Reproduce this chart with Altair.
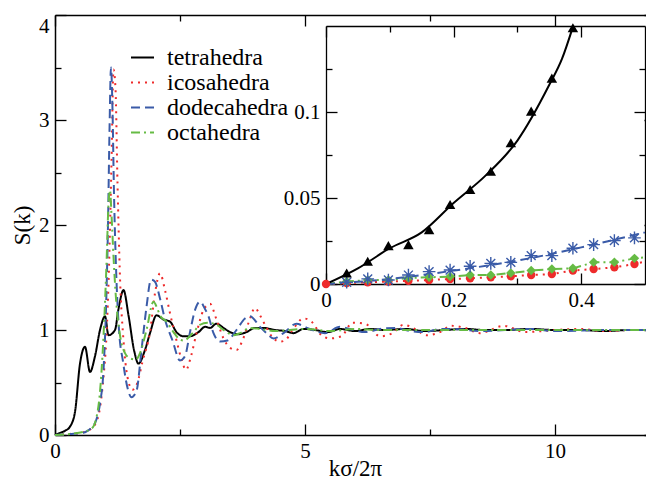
import altair as alt
import pandas as pd

# ---------------- main panel data ----------------
names = ["tetrahedra", "icosahedra", "dodecahedra", "octahedra"]
colors = ["#000000", "#ee2b2b", "#3a5ba8", "#66bb44"]
dashes = [[1, 0], [2, 5], [9, 5], [9, 4, 2, 4]]

k_tet = [0.0, 0.1, 0.2, 0.3, 0.4, 0.5, 0.6, 0.7, 0.8, 0.9, 1.0, 1.07, 1.2, 1.27, 1.37, 1.47, 1.58, 1.67, 1.8, 1.9,
         2.03, 2.17, 2.3, 2.43, 2.57, 2.7, 2.87, 3.0, 3.1, 3.23, 3.37, 3.5, 3.67, 3.83, 4.0, 4.17, 4.4, 4.6, 4.77, 4.97,
         5.2, 5.45, 5.7, 6.0, 6.3, 6.6, 7.0, 7.4, 7.8, 8.2, 8.6, 9.0, 9.5, 10.0, 10.5, 11.0, 11.5, 12.0]
s_tet = [0.0, 0.02, 0.04, 0.08, 0.22, 0.68, 0.84, 0.60, 0.75, 1.0, 1.13, 0.95, 1.0, 1.2, 1.38, 1.14, 0.81, 0.68, 0.81, 0.97,
         1.14, 1.10, 1.08, 0.98, 0.94, 0.94, 0.98, 1.03, 1.02, 1.06, 1.02, 0.98, 0.96, 0.98, 1.02, 1.02, 1.0, 0.99, 0.97, 1.01,
         1.0, 0.98, 1.01, 0.99, 1.01, 1.0, 1.01, 0.99, 1.0, 1.01, 1.0, 1.0, 1.01, 1.0, 1.0, 0.99, 1.0, 1.0]

k_ico = [0.0, 0.3, 0.5, 0.65, 0.75, 0.8, 0.9, 0.97, 1.03, 1.08, 1.13, 1.17, 1.21, 1.25, 1.3, 1.37, 1.45, 1.55, 1.65, 1.75,
         1.9, 2.0, 2.1, 2.2, 2.3, 2.43, 2.53, 2.62, 2.72, 2.83, 2.97, 3.1, 3.23, 3.37, 3.5, 3.63, 3.75, 3.88, 4.0, 4.1,
         4.2, 4.35, 4.5, 4.6, 4.75, 4.97, 5.13, 5.33, 5.5, 5.73, 5.95, 6.2, 6.5, 6.75, 6.97, 7.2, 7.43, 7.7, 7.93, 8.2,
         8.5, 8.97, 9.4, 10.0, 10.5, 11.0, 11.5, 12.0]
s_ico = [0.0, 0.01, 0.02, 0.04, 0.07, 0.1, 0.26, 0.55, 0.95, 1.6, 2.6, 3.48, 3.3, 2.4, 1.5, 0.9, 0.55, 0.43, 0.5, 0.7,
         0.98, 1.35, 1.54, 1.38, 1.16, 0.9, 0.72, 0.62, 0.75, 0.97, 1.19, 1.25, 1.1, 0.92, 0.83, 0.81, 0.9, 1.08, 1.21, 1.14,
         1.05, 0.93, 0.89, 0.9, 1.0, 1.11, 1.08, 0.95, 0.92, 0.94, 1.07, 1.06, 0.94, 0.97, 1.05, 1.01, 0.95, 0.98, 1.04, 1.02,
         0.97, 1.04, 0.98, 1.0, 1.01, 0.99, 1.0, 1.0]

k_dod = [0.0, 0.3, 0.55, 0.65, 0.73, 0.83, 0.9, 0.97, 1.02, 1.06, 1.09, 1.12, 1.15, 1.18, 1.22, 1.28, 1.36, 1.45, 1.53, 1.63,
         1.73, 1.83, 1.92, 2.0, 2.1, 2.2, 2.35, 2.5, 2.6, 2.7, 2.8, 2.9, 3.0, 3.07, 3.17, 3.3, 3.45, 3.63, 3.8, 3.9,
         4.1, 4.23, 4.37, 4.57, 4.83, 5.0, 5.2, 5.4, 5.7, 5.9, 6.2, 6.5, 6.8, 7.1, 7.4, 7.7, 8.0, 8.5, 9.0, 9.5,
         10.0, 11.0, 12.0]
s_dod = [0.0, 0.01, 0.02, 0.04, 0.07, 0.15, 0.3, 0.62, 1.2, 2.0, 2.9, 3.5, 3.1, 2.3, 1.6, 1.0, 0.7, 0.45, 0.36, 0.42,
         0.81, 1.22, 1.48, 1.46, 1.3, 1.1, 0.9, 0.71, 0.75, 0.98, 1.19, 1.27, 1.2, 1.13, 0.97, 0.89, 0.9, 1.0, 1.11, 1.13,
         1.03, 0.97, 0.92, 0.97, 1.06, 1.03, 0.99, 0.97, 1.03, 1.01, 0.98, 1.01, 1.02, 0.99, 0.98, 1.01, 1.01, 0.99, 1.0, 1.01,
         0.99, 1.0, 1.0]

k_oct = [0.0, 0.3, 0.57, 0.73, 0.83, 0.89, 0.97, 1.03, 1.07, 1.1, 1.13, 1.17, 1.22, 1.3, 1.4, 1.5, 1.62, 1.7, 1.83, 1.97,
         2.05, 2.1, 2.23, 2.37, 2.47, 2.57, 2.77, 2.9, 3.05, 3.23, 3.4, 3.57, 3.7, 3.9, 4.1, 4.4, 4.7, 5.0, 5.5, 6.0,
         6.5, 7.0, 8.0, 9.0, 10.0, 11.0, 12.0]
s_oct = [0.0, 0.01, 0.03, 0.06, 0.17, 0.36, 0.94, 1.63, 2.2, 2.33, 2.1, 1.7, 1.3, 0.95, 0.78, 0.73, 0.72, 0.78, 1.0, 1.27,
         1.2, 1.14, 1.08, 0.98, 0.92, 0.9, 0.98, 1.05, 1.07, 1.05, 0.99, 0.95, 0.97, 1.02, 1.01, 0.99, 1.0, 1.01, 0.99, 1.01,
         1.0, 1.0, 1.0, 1.0, 1.0, 1.0, 1.0]

# ---------------- inset data ----------------
k_pts = [0.0324, 0.0654, 0.0978, 0.1292, 0.1616, 0.1945, 0.2259, 0.2583, 0.2897, 0.3216, 0.354, 0.387,
         0.4195, 0.452, 0.4835]
tet_pts = [0.0064, 0.0132, 0.0223, 0.0229, 0.0316, 0.0462, 0.0549, 0.0656, 0.0821, 0.1005, 0.1197, 0.149]
dod_pts = [0.001, 0.003, 0.0023, 0.0052, 0.0072, 0.0081, 0.0103, 0.012, 0.0126, 0.0165, 0.0165, 0.0208,
           0.0229, 0.0252, 0.0268]
oct_pts = [0.0014, 0.0023, 0.0023, 0.0035, 0.0039, 0.0043, 0.0052, 0.0052, 0.0064, 0.0078, 0.0087, 0.0091,
           0.0126, 0.0126, 0.0149]
ico_k = [0.0] + k_pts
ico_pts = [0.0, 0.0005, 0.001, 0.0014, 0.0019, 0.0023, 0.0029, 0.0033, 0.0039, 0.0045, 0.0052, 0.0058,
           0.0078, 0.0087, 0.0097, 0.0116]

tet_fit_k = [0.0, 0.05, 0.1, 0.15, 0.2, 0.25, 0.3, 0.35, 0.37, 0.387]
tet_fit_s = [0.0, 0.0091, 0.0208, 0.030, 0.0471, 0.063, 0.0834, 0.1158, 0.131, 0.1495]
dod_fit_k = [0.0, 0.1, 0.2, 0.3, 0.4, 0.5]
dod_fit_s = [0.0, 0.0029, 0.0078, 0.0136, 0.0213, 0.030]
oct_line_k = [0.0] + k_pts + [0.5]
oct_line_s = [0.0] + oct_pts + [0.0155]
ico_line_k = ico_k + [0.5]
ico_line_s = ico_pts + [0.013]

# ---------------- frames ----------------
frames = []
for nm, kk, ss in [(names[0], k_tet, s_tet), (names[1], k_ico, s_ico),
                   (names[2], k_dod, s_dod), (names[3], k_oct, s_oct)]:
    frames.append(pd.DataFrame({"k": kk, "S": ss, "series": nm}))
df_main = pd.concat(frames, ignore_index=True)

df_tet_pts = pd.DataFrame({"k": k_pts[:len(tet_pts)], "S": tet_pts})
df_dod_pts = pd.DataFrame({"k": k_pts, "S": dod_pts})
df_oct_pts = pd.DataFrame({"k": k_pts, "S": oct_pts})
df_ico_pts = pd.DataFrame({"k": ico_k, "S": ico_pts})
df_tet_fit = pd.DataFrame({"k": tet_fit_k, "S": tet_fit_s})
df_dod_fit = pd.DataFrame({"k": dod_fit_k, "S": dod_fit_s})
df_oct_line = pd.DataFrame({"k": oct_line_k, "S": oct_line_s})
df_ico_line = pd.DataFrame({"k": ico_line_k, "S": ico_line_s})

W, H = 600, 420
IX0, IX1, IY0, IY1 = 271, 590, 269, 11   # inset pixel range inside plot area

FONT = "Liberation Serif, Times New Roman, DejaVu Serif, serif"


def mk_axis(orient, values, offset=0, size=0, labels=False, domain=False, **kw):
    d = dict(orient=orient, values=values, offset=offset, labels=labels, domain=domain,
             grid=False, title=None, domainColor="black", tickColor="black")
    if size > 0:
        d.update(ticks=True, tickSize=size, tickWidth=1.3)
    else:
        d.update(ticks=False, tickSize=0)
    d.update(kw)
    return alt.Axis(**d)


# ---------------- main panel ----------------
xs_m = alt.Scale(domain=[0, 12], nice=False, zero=False)
ys_m = alt.Scale(domain=[0, 4], nice=False, zero=False)

xmaj, xmin = [0, 5, 10], [2.5, 7.5]
ymaj, ymin = [0, 1, 2, 3, 4], [0.5, 1.5, 2.5, 3.5]

leg = alt.Legend(orient="none", legendX=75, legendY=30, title=None, symbolType="stroke",
                 symbolSize=529, symbolStrokeWidth=2, labelFont=FONT, labelFontSize=24,
                 labelOffset=12, rowPadding=-5, padding=0, labelColor="black")

A1 = mk_axis("bottom", xmaj, labels=True, domain=True, format="~r", labelFlush=False,
             labelPadding=5, title="kσ/2π", titleY=40, titleBaseline="alphabetic", domainWidth=1.5)
B1 = mk_axis("left", ymaj, labels=True, domain=True, format="~r", labelPadding=6,
             title="S(k)", titlePadding=4, domainWidth=1.5,
             labelBaseline={"condition": {"test": "datum.value === 4", "value": "top"}, "value": "middle"})

lines = alt.Chart(df_main).mark_line(strokeWidth=2, interpolate="monotone").encode(
    x=alt.X("k:Q", scale=xs_m, axis=A1),
    y=alt.Y("S:Q", scale=ys_m, axis=B1),
    color=alt.Color("series:N", scale=alt.Scale(domain=names, range=colors), legend=leg),
    strokeDash=alt.StrokeDash("series:N", scale=alt.Scale(domain=names, range=dashes), legend=leg),
)


def carrier(df, xs, ys, ax_x, ax_y):
    return alt.Chart(df).mark_point(opacity=0).encode(
        x=alt.X("k:Q", scale=xs, axis=ax_x),
        y=alt.Y("S:Q", scale=ys, axis=ax_y),
    )


m_layers = [
    lines,
    carrier(df_main, xs_m, ys_m, mk_axis("top", xmaj, offset=-H, size=11),
            mk_axis("right", ymaj, offset=-W, size=11)),
    carrier(df_main, xs_m, ys_m, mk_axis("top", xmin, offset=-H, size=6),
            mk_axis("right", ymin, offset=-W, size=6)),
    carrier(df_main, xs_m, ys_m, mk_axis("bottom", xmaj, offset=-H, size=11, domain=True, domainWidth=1.5),
            mk_axis("left", ymaj, offset=-W, size=11, domain=True, domainWidth=1.5)),
    carrier(df_main, xs_m, ys_m, mk_axis("bottom", xmin, offset=-H, size=6),
            mk_axis("left", ymin, offset=-W, size=6)),
]
main = alt.layer(*m_layers).resolve_axis(x="independent", y="independent")

# ---------------- inset ----------------
xs_i = alt.Scale(domain=[0, 0.5], range=[IX0, IX1], nice=False, zero=False)
ys_i = alt.Scale(domain=[0, 0.15], range=[IY0, IY1], nice=False, zero=False)
ixmaj, ixmin = [0, 0.2, 0.4], [0.1, 0.3]
iymaj, iymin = [0, 0.05, 0.1], [0.025, 0.075, 0.125]

C1 = mk_axis("bottom", ixmaj, offset=IY0 - H, labels=True, domain=True, format="~r",
             labelFlush=False, labelPadding=5, domainWidth=1.3)
D1 = mk_axis("left", iymaj, offset=-IX0, labels=True, domain=True, format="~r",
             labelFlush=False, labelPadding=6, domainWidth=1.3)

enc = lambda: dict(x=alt.X("k:Q", scale=xs_i, axis=None), y=alt.Y("S:Q", scale=ys_i, axis=None))

star = "M-1,0L1,0M0,-1L0,1M-0.7,-0.7L0.7,0.7M-0.7,0.7L0.7,-0.7"

i_layers = [
    carrier(df_tet_fit, xs_i, ys_i, C1, D1),
    carrier(df_tet_fit, xs_i, ys_i, mk_axis("top", ixmaj, offset=-IY0, size=11),
            mk_axis("right", iymaj, offset=IX0 - W, size=11)),
    carrier(df_tet_fit, xs_i, ys_i, mk_axis("top", ixmin, offset=-IY0, size=6),
            mk_axis("right", iymin, offset=IX0 - W, size=6)),
    carrier(df_tet_fit, xs_i, ys_i, mk_axis("bottom", ixmaj, offset=IY1 - H, size=11, domain=True, domainWidth=1.3),
            mk_axis("left", iymaj, offset=-IX1, size=11, domain=True, domainWidth=1.3)),
    carrier(df_tet_fit, xs_i, ys_i, mk_axis("bottom", ixmin, offset=IY1 - H, size=6),
            mk_axis("left", iymin, offset=-IX1, size=6)),
    alt.Chart(df_ico_line).mark_line(color=colors[1], strokeWidth=2, strokeDash=[2, 5]).encode(**enc()),
    alt.Chart(df_oct_line).mark_line(color=colors[3], strokeWidth=2, strokeDash=[9, 4, 2, 4]).encode(**enc()),
    alt.Chart(df_dod_fit).mark_line(color=colors[2], strokeWidth=2, strokeDash=[9, 5],
                                    interpolate="monotone").encode(**enc()),
    alt.Chart(df_tet_fit).mark_line(color="black", strokeWidth=2, interpolate="monotone").encode(**enc()),
    alt.Chart(df_ico_pts).mark_point(shape="circle", filled=True, color=colors[1], size=70, opacity=1).encode(**enc()),
    alt.Chart(df_oct_pts).mark_point(shape="diamond", filled=True, color=colors[3], size=90, opacity=1).encode(**enc()),
    alt.Chart(df_dod_pts).mark_point(shape=star, filled=False, color=colors[2], size=160, strokeWidth=1.4,
                                     opacity=1).encode(**enc()),
    alt.Chart(df_tet_pts).mark_point(shape="triangle-up", filled=True, color="black", size=110,
                                     opacity=1).encode(**enc()),
]
inset = alt.layer(*i_layers).resolve_axis(x="independent", y="independent")

chart = alt.layer(main, inset).resolve_scale(x="independent", y="independent").properties(
    width=W, height=H,
    padding={"left": 47, "top": 7, "right": -9, "bottom": 44},
    autosize=alt.AutoSizeParams(type="none"),
).configure_view(stroke=None).configure_axis(
    labelFont=FONT, labelFontSize=21, labelColor="black",
    titleFont=FONT, titleFontSize=23, titleColor="black", titleFontWeight="normal",
).configure_legend(labelFont=FONT, labelFontSize=24, labelColor="black")

chart.save("out.html", embed_options={"renderer": "svg", "actions": False})
